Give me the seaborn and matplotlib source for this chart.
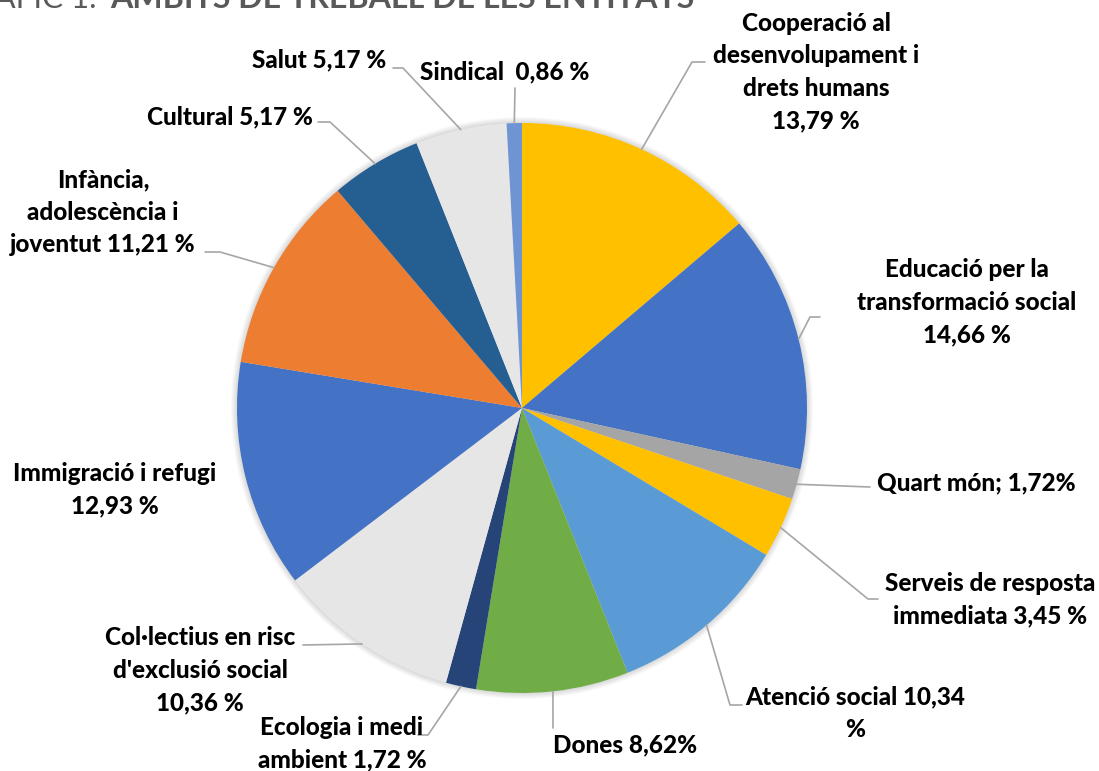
import numpy as np
import matplotlib
matplotlib.use("Agg")
import matplotlib.pyplot as plt
import seaborn as sns
from matplotlib.patches import Circle

sns.set_theme(style="white")
plt.rcParams['font.family'] = ['Lato', 'DejaVu Sans']

# data (clockwise from 12 o'clock)
categories = ["Cooperació al desenvolupament i drets humans",
              "Educació per la transformació social",
              "Quart món", "Serveis de resposta immediata",
              "Atenció social", "Dones", "Ecologia i medi ambient",
              "Col·lectius en risc d'exclusió social",
              "Immigració i refugi", "Infància, adolescència i joventut",
              "Cultural", "Salut", "Sindical"]
values = [13.79, 14.66, 1.72, 3.45, 10.34, 8.62, 1.72, 10.36, 12.93, 11.21, 5.17, 5.17, 0.86]
label_texts = ["Cooperació al\ndesenvolupament i\ndrets humans\n13,79 %",
               "Educació per la\ntransformació social\n14,66 %",
               "Quart món; 1,72%",
               "Serveis de resposta\nimmediata 3,45 %",
               "Atenció social 10,34\n%",
               "Dones 8,62%",
               "Ecologia i medi\nambient 1,72 %",
               "Col·lectius en risc\nd'exclusió social\n10,36 %",
               "Immigració i refugi\n12,93 %",
               "Infància,\nadolescència i\njoventut 11,21 %",
               "Cultural 5,17 %",
               "Salut 5,17 %",
               "Sindical  0,86 %"]
colors = ["#FFC000", "#4472C4", "#A5A5A5", "#FFC000", "#5B9BD5", "#70AD47",
          "#264478", "#E7E6E6", "#4472C4", "#ED7D31", "#255E91", "#E7E6E6", "#6F94D4"]

# layout (pixel coords of the 1099x771 canvas)
center = (522, 408)
radius = 285
label_pos = [(816, 72), (967, 302), (976, 483), (990, 600), (855, 713), (625, 745),
             (342, 744), (200, 670), (115, 490), (103, 212), (230, 117), (319, 60), (505, 72)]
leader_pts = [[(692, 62), (705, 62)], [(810, 317), (820, 317)], [(870, 487)],
              [(868, 599), (878, 599)], [(730, 705), (742, 705)], [(553, 728)],
              [(428, 735), (418, 735)], [(303, 645)], None,
              [(220, 252), (205, 252)], [(330, 122), (318, 122)],
              [(403, 68), (393, 68)], [(515, 88)]]

fig = plt.figure(figsize=(10.99, 7.71), dpi=100)
ax = fig.add_axes([0, 0, 1, 1])

# soft shadow round the rim
for k in range(1, 7):
    ax.add_patch(Circle(center, radius + k, color="black", alpha=0.025, lw=0, zorder=0))

# y axis is inverted, so counterclock in data = clockwise on screen
wedges, _ = ax.pie(values, colors=colors, startangle=-90, counterclock=True,
                   center=center, radius=radius, wedgeprops=dict(linewidth=0),
                   frame=True)
ax.set_xlim(0, 1099)
ax.set_ylim(771, 0)
ax.axis("off")

for w, txt, pos, pts in zip(wedges, label_texts, label_pos, leader_pts):
    mid = np.deg2rad((w.theta1 + w.theta2) / 2)
    if pts is not None:
        xs = [center[0] + radius * np.cos(mid)] + [p[0] for p in pts]
        ys = [center[1] + radius * np.sin(mid)] + [p[1] for p in pts]
        ax.plot(xs, ys, color="#A6A6A6", lw=1.2, zorder=3)
    ax.text(pos[0], pos[1], txt, ha="center", va="center", fontsize=17.5,
            fontweight=900, color="black", linespacing=1.5, zorder=4)

# title, cut off at the top edge as in the source image
ax.text(96, 8, "GRÀFIC 1.", ha="right", va="baseline", fontsize=22.5,
        color="#595959", fontweight="normal", zorder=5)
ax.text(694, 8, "ÀMBITS DE TREBALL DE LES ENTITATS", ha="right", va="baseline",
        fontsize=23.1, color="#595959", fontweight="bold", zorder=5)

fig.savefig("out.png", dpi=100, facecolor="white")
